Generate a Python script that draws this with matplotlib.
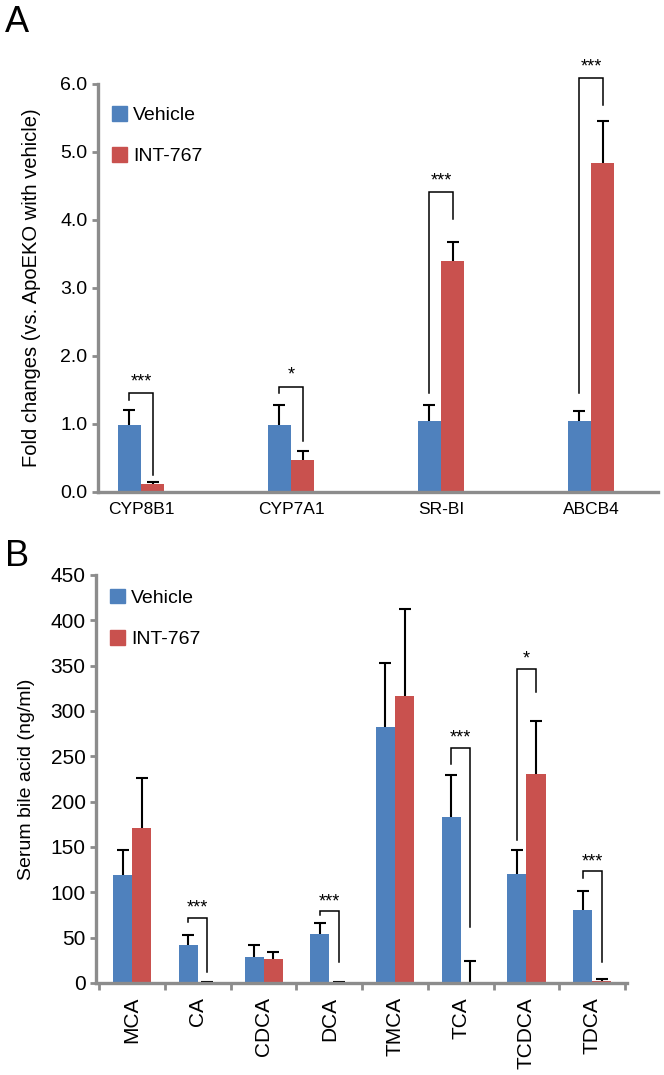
import numpy as np
import matplotlib
matplotlib.use('Agg')
from matplotlib import pyplot as plt
from matplotlib.patches import Patch

plt.rcParams['font.family'] = ['Liberation Sans', 'DejaVu Sans']

# panel A: hepatic gene expression
genes = ['CYP8B1', 'CYP7A1', 'SR-BI', 'ABCB4']
a_veh = [0.99, 0.99, 1.04, 1.04]
a_veh_err = [0.21, 0.29, 0.24, 0.15]
a_int = [0.12, 0.47, 3.39, 4.84]
a_int_err = [0.02, 0.13, 0.29, 0.62]
a_sig = ['***', '*', '***', '***']
a_br_top = [1.45, 1.55, 4.41, 6.09]
a_br_left = [1.35, 1.45, 1.46, 1.46]
a_br_right = [0.25, 0.75, 4.01, 5.69]

# panel B: serum bile acids
acids = ['MCA', 'CA', 'CDCA', 'DCA', 'TMCA', 'TCA', 'TCDCA', 'TDCA']
b_veh = [119, 42, 29, 54, 282, 183, 120, 81]
b_veh_err = [28, 11, 13, 12, 71, 46, 27, 20]
b_int = [171, 1.5, 27, 1.5, 316, 1, 230, 2]
b_int_err = [55, 0, 7, 0, 96, 23, 59, 2]
b_br_idx = [1, 3, 5, 6, 7]
b_sig = ['***', '***', '***', '*', '***']
b_br_top = [72, 79, 259, 346, 123]
b_br_left = [67, 75, 242, 158, 116]
b_br_right = [12, 23, 62, 321, 23]

BLUE = '#4F81BD'
RED = '#C9514E'
GREY = '#8c8c8c'

fig = plt.figure(figsize=(6.64, 10.75), dpi=100)


def style_axes(ax):
    for s in ['top', 'right']:
        ax.spines[s].set_visible(False)
    for s in ['left', 'bottom']:
        ax.spines[s].set_color(GREY)
        ax.spines[s].set_linewidth(2.4)
    ax.tick_params(axis='y', colors=GREY, width=2, length=4, labelcolor='black')


def bars(ax, x, vals, errs, color):
    ax.bar(x, vals, width=bw[ax], color=color)
    eb = ax.errorbar(x, vals, yerr=[np.zeros(len(vals)), errs], fmt='none', ecolor='black',
                     elinewidth=1.5, capsize=4, capthick=1.5)
    # one-sided bars: drop the cap sitting on top of the bar
    eb.lines[1][0].set_visible(False)


def bracket(ax, x1, x2, top, yl, yr, sig, off):
    ax.plot([x1, x1, x2, x2], [yl, top, top, yr], color='black', lw=1.1,
            clip_on=False, solid_joinstyle='miter')
    ax.annotate(sig, ((x1 + x2) / 2, top), xytext=(0, off), textcoords='offset points',
                ha='center', va='bottom', fontsize=13, annotation_clip=False)


def legend(ax, y):
    ax.legend(handles=[Patch(color=BLUE, label='Vehicle'), Patch(color=RED, label='INT-767')],
              loc='upper left', bbox_to_anchor=(0.0, y), frameon=False, fontsize=14,
              handlelength=0.8, handleheight=0.8, handletextpad=0.3, labelspacing=1.2,
              borderaxespad=0.3)


bw = {}

# ---- A ----
axA = fig.add_axes([98 / 664, 1 - 492 / 1075, 560 / 664, 408 / 1075])
bw[axA] = 0.155
w = bw[axA]
xa = np.arange(len(genes))
bars(axA, xa - w / 2, a_veh, a_veh_err, BLUE)
bars(axA, xa + w / 2, a_int, a_int_err, RED)
for i in range(len(genes)):
    bracket(axA, xa[i] - w / 2, xa[i] + w / 2, a_br_top[i], a_br_left[i], a_br_right[i], a_sig[i], 2)
axA.set_xlim(-0.287, 3.447)
axA.set_ylim(0, 6.0)
axA.set_yticks(np.arange(0, 6.5, 1.0))
axA.set_yticklabels(['%.1f' % v for v in np.arange(0, 6.5, 1.0)], fontsize=14)
axA.set_xticks(xa)
axA.set_xticklabels(genes, fontsize=12.5)
axA.tick_params(axis='x', length=0, pad=7)
style_axes(axA)
axA.set_ylabel('Fold changes (vs. ApoEKO with vehicle)', fontsize=14.5)
axA.yaxis.set_label_coords(-0.102, 0.5)
legend(axA, 0.98)

# ---- B ----
axB = fig.add_axes([96 / 664, 1 - 983 / 1075, 531 / 664, 408 / 1075])
bw[axB] = 0.29
wb = bw[axB]
xb = np.arange(len(acids))
bars(axB, xb - wb / 2, b_veh, b_veh_err, BLUE)
bars(axB, xb + wb / 2, b_int, b_int_err, RED)
for k, i in enumerate(b_br_idx):
    bracket(axB, xb[i] - wb / 2, xb[i] + wb / 2, b_br_top[k], b_br_left[k], b_br_right[k], b_sig[k], 1)
axB.set_xlim(-0.55, 7.53)
axB.set_ylim(0, 450)
axB.set_yticks(np.arange(0, 451, 50))
axB.tick_params(axis='y', labelsize=15)
axB.set_xticks(xb)
axB.set_xticklabels(acids, rotation=90, fontsize=15)
axB.set_xticks(np.arange(-0.5, 8, 1.0), minor=True)
axB.tick_params(axis='x', which='major', length=0, pad=10)
axB.tick_params(axis='x', which='minor', colors=GREY, width=2, length=5)
style_axes(axB)
axB.set_ylabel('Serum bile acid (ng/ml)', fontsize=14)
axB.yaxis.set_label_coords(-0.115, 0.5)
legend(axB, 1.0)

fig.text(0.008, 0.995, 'A', fontsize=26, va='top')
fig.text(0.008, 0.499, 'B', fontsize=26, va='top')

fig.savefig('out.png', dpi=100)
